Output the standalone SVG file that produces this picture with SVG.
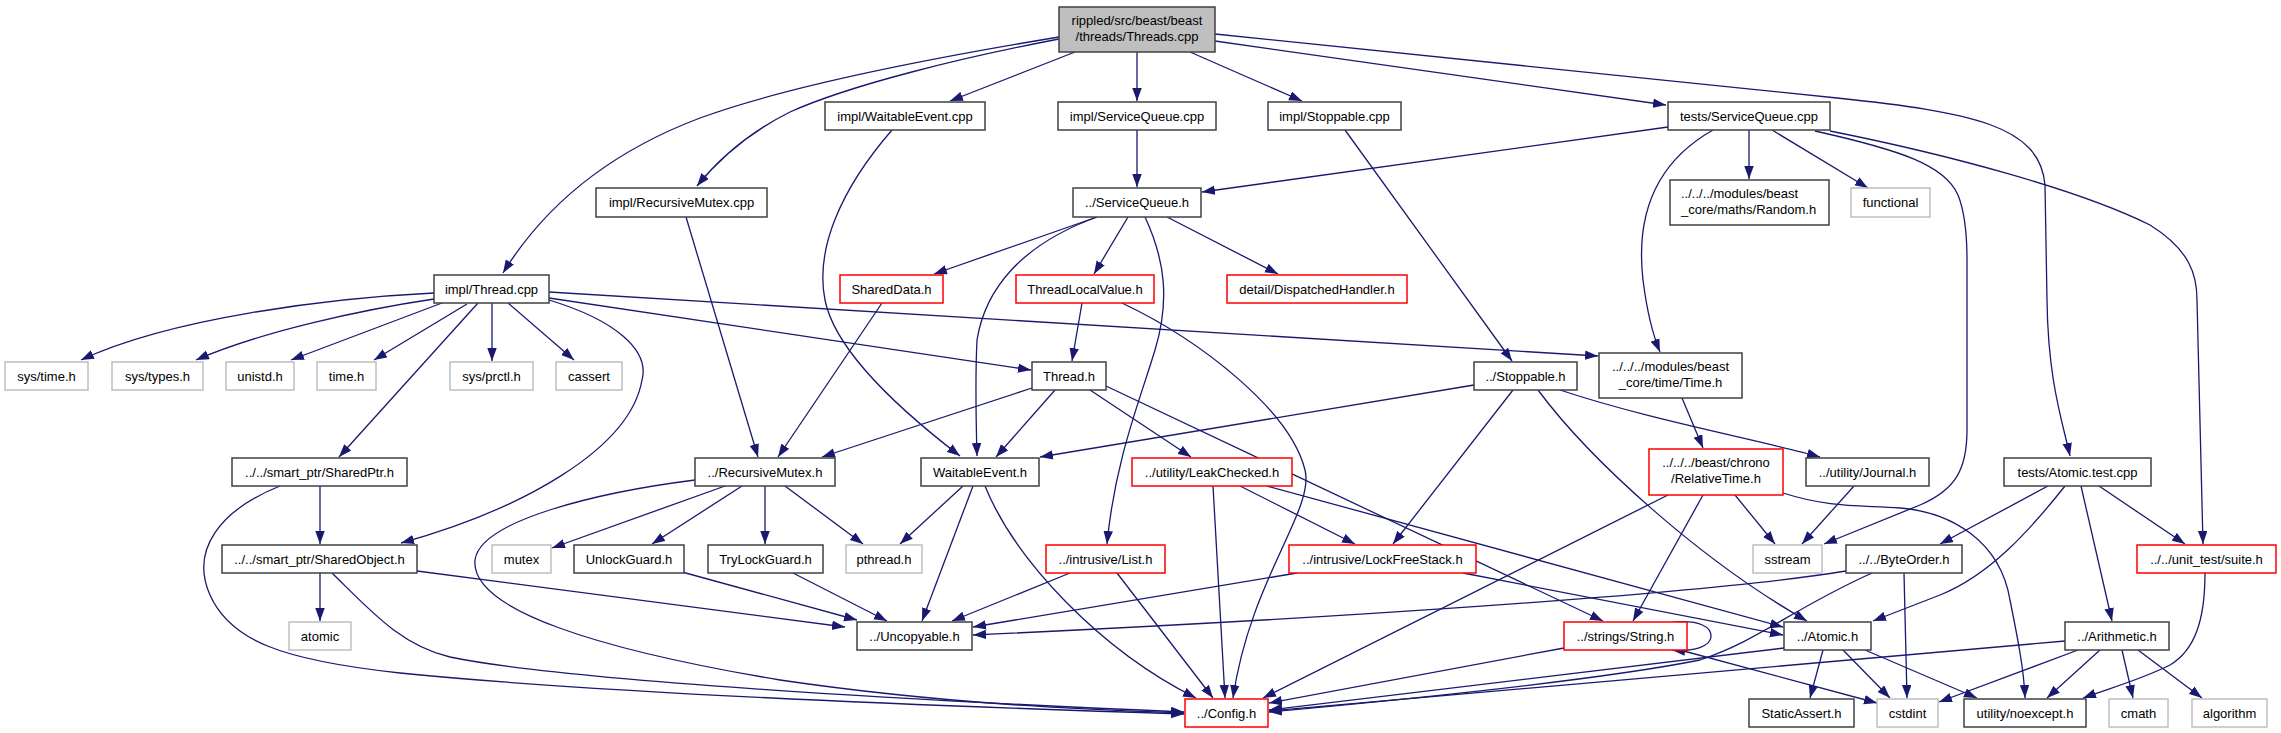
<svg xmlns="http://www.w3.org/2000/svg" width="2281" height="733" viewBox="0 0 2281 733">
<style>
rect{fill:#fff;stroke:#404040;stroke-width:1.5}
.g rect{stroke:#bfbfbf}
.r rect{stroke:#ff0000}
#root rect{fill:#bfbfbf}
text{font-family:"Liberation Sans",Arial,sans-serif;font-size:13px;fill:#000;text-anchor:middle}
#edges path{fill:none;stroke:#191970;stroke-width:1.3;marker-end:url(#ah)}
</style>
<defs>
<marker id="ah" markerUnits="userSpaceOnUse" markerWidth="13" markerHeight="10" refX="13" refY="4.75" orient="auto">
<path d="M0,0 L13,4.75 L0,9.5 z" fill="#191970"/>
</marker>
</defs>
<rect x="0" y="0" width="2281" height="733" style="fill:#fff;stroke:none"/>
<g id="edges">
<path d="M1059,37 C950,55 790,85 700,118 C610,152 545,205 503,273"/>
<path d="M1059,39 C960,58 850,85 790,112 C750,132 718,160 697,186"/>
<path d="M1075,52 L950,101"/>
<path d="M1137,52 L1137,101"/>
<path d="M1190,52 L1302,101"/>
<path d="M1215,41 L1666,105"/>
<path d="M1215,34 L1837,98 C1970,112 2040,125 2045,185 L2047,300 C2048,380 2062,420 2070,456"/>
<path d="M892,130 C840,190 815,250 825,300 C835,350 900,410 960,456"/>
<path d="M1137,130 L1137,187"/>
<path d="M1345,130 L1512,361"/>
<path d="M686,217 L758,457"/>
<path d="M1668,127 L1202,192"/>
<path d="M1713,130 C1660,160 1635,210 1643,280 C1648,320 1655,340 1660,352"/>
<path d="M1749,130 L1749,179"/>
<path d="M1772,130 L1868,188"/>
<path d="M1815,131 C1900,150 1945,165 1958,195 C1966,215 1967,240 1967,260 L1967,430 C1967,470 1955,490 1920,505 L1824,544"/>
<path d="M1830,131 C1950,155 2080,190 2150,225 C2190,250 2197,275 2197,300 L2203,544"/>
<path d="M1097,217 L934,274"/>
<path d="M1097,217 C1020,245 985,290 977,340 C975,380 976,420 977,456"/>
<path d="M1128,217 L1094,274"/>
<path d="M1145,217 C1165,260 1170,300 1155,350 C1140,400 1115,460 1107,544"/>
<path d="M1167,217 L1278,274"/>
<path d="M882,303 L778,457"/>
<path d="M1082,303 L1072,361"/>
<path d="M1122,303 C1200,340 1290,410 1305,470 C1315,510 1250,580 1233,698"/>
<path d="M434,293 C330,298 170,318 81,360"/>
<path d="M434,299 C360,310 260,332 196,360"/>
<path d="M442,303 L291,360"/>
<path d="M467,304 L374,360"/>
<path d="M478,303 L339,457"/>
<path d="M492,303 L492,361"/>
<path d="M508,303 L574,360"/>
<path d="M549,300 C615,320 650,350 642,380 C630,450 520,510 401,543"/>
<path d="M549,298 L1031,370"/>
<path d="M549,292 L1598,356"/>
<path d="M1032,388 L822,457"/>
<path d="M1055,390 L996,457"/>
<path d="M1090,390 L1191,457"/>
<path d="M1106,386 L1603,621"/>
<path d="M1474,385 L1040,457"/>
<path d="M1513,390 L1393,544"/>
<path d="M1560,390 C1650,420 1760,440 1820,457"/>
<path d="M1538,390 C1590,460 1700,560 1807,621"/>
<path d="M1682,398 L1703,448"/>
<path d="M1735,495 L1775,544"/>
<path d="M1703,495 L1633,621"/>
<path d="M1668,495 L1263,698"/>
<path d="M1783,493 C1830,508 1860,505 1900,508 C1950,512 2000,540 2010,600 C2018,640 2024,670 2025,698"/>
<path d="M1854,486 L1802,544"/>
<path d="M725,486 L552,548"/>
<path d="M742,486 L652,544"/>
<path d="M765,486 L765,544"/>
<path d="M785,486 L863,544"/>
<path d="M695,480 C600,492 480,520 475,560 C470,610 600,650 780,680 C950,705 1100,710 1184,713"/>
<path d="M963,486 L900,544"/>
<path d="M973,486 L922,621"/>
<path d="M985,486 C1015,560 1100,650 1196,698"/>
<path d="M1240,486 L1355,544"/>
<path d="M1213,486 L1225,698"/>
<path d="M1267,486 L1783,627"/>
<path d="M320,486 L320,544"/>
<path d="M280,486 C220,510 190,550 210,595 C230,640 280,660 400,673 C600,693 900,705 1184,714"/>
<path d="M320,573 L320,621"/>
<path d="M417,571 L845,627"/>
<path d="M332,573 C370,610 400,645 450,657 C560,680 900,700 1184,712"/>
<path d="M682,572 L857,620"/>
<path d="M793,573 L887,621"/>
<path d="M1070,573 L952,621"/>
<path d="M1117,573 L1213,698"/>
<path d="M1297,573 L973,627"/>
<path d="M1463,573 L1783,635"/>
<path d="M1846,571 C1700,595 1300,620 973,635"/>
<path d="M1872,573 C1790,610 1760,640 1700,660 C1600,680 1400,700 1269,712"/>
<path d="M1904,573 L1907,698"/>
<path d="M2048,486 L1940,544"/>
<path d="M2065,486 C2030,530 1990,575 1940,595 L1873,621"/>
<path d="M2081,486 L2112,621"/>
<path d="M2099,486 L2185,544"/>
<path d="M2205,573 C2205,620 2195,650 2170,665 C2140,680 2110,688 2083,698"/>
<path d="M1823,650 L1810,698"/>
<path d="M1843,650 L1890,698"/>
<path d="M1865,650 L1977,698"/>
<path d="M1784,648 L1269,710"/>
<path d="M1668,623 C1700,618 1712,628 1711,637 C1710,646 1695,652 1672,650"/>
<path d="M1680,650 L1877,703"/>
<path d="M1564,648 L1269,703"/>
<path d="M2078,650 L1939,702"/>
<path d="M2100,650 L2047,698"/>
<path d="M2122,650 L2133,698"/>
<path d="M2138,650 L2202,698"/>
<path d="M2065,641 L1269,711"/>
</g>
<g id="root"><rect x="1059" y="7" width="156" height="45"/><text x="1137" y="24.5">rippled/src/beast/beast</text><text x="1137" y="40.5">/threads/Threads.cpp</text></g>
<g id="waitcpp"><rect x="825" y="102" width="160" height="28"/><text x="905" y="120.5">impl/WaitableEvent.cpp</text></g>
<g id="sqcpp"><rect x="1058" y="102" width="158" height="28"/><text x="1137" y="120.5">impl/ServiceQueue.cpp</text></g>
<g id="stopcpp"><rect x="1268" y="102" width="133" height="28"/><text x="1334.5" y="120.5">impl/Stoppable.cpp</text></g>
<g id="tsqcpp"><rect x="1668" y="102" width="162" height="28"/><text x="1749" y="120.5">tests/ServiceQueue.cpp</text></g>
<g id="rmcpp"><rect x="596" y="188" width="171" height="29"/><text x="681.5" y="207">impl/RecursiveMutex.cpp</text></g>
<g id="sqh"><rect x="1073" y="188" width="128" height="29"/><text x="1137" y="207">../ServiceQueue.h</text></g>
<g id="random"><rect x="1670" y="180" width="159" height="45"/><text x="1681" y="197.5" style="text-anchor:start">../../../modules/beast</text><text x="1681" y="213.5" style="text-anchor:start">_core/maths/Random.h</text></g>
<g id="functional" class="g"><rect x="1851" y="188" width="79" height="29"/><text x="1890.5" y="207">functional</text></g>
<g id="threadcpp"><rect x="434" y="275" width="115" height="28"/><text x="491.5" y="293.5">impl/Thread.cpp</text></g>
<g id="shareddata" class="r"><rect x="840" y="275" width="103" height="28"/><text x="891.5" y="293.5">SharedData.h</text></g>
<g id="tlv" class="r"><rect x="1016" y="275" width="138" height="28"/><text x="1085" y="293.5">ThreadLocalValue.h</text></g>
<g id="dispatched" class="r"><rect x="1227" y="275" width="180" height="28"/><text x="1317" y="293.5">detail/DispatchedHandler.h</text></g>
<g id="systime" class="g"><rect x="5" y="362" width="83" height="28"/><text x="46.5" y="380.5">sys/time.h</text></g>
<g id="systypes" class="g"><rect x="112" y="362" width="91" height="28"/><text x="157.5" y="380.5">sys/types.h</text></g>
<g id="unistd" class="g"><rect x="226" y="362" width="68" height="28"/><text x="260" y="380.5">unistd.h</text></g>
<g id="timeh" class="g"><rect x="317" y="362" width="59" height="28"/><text x="346.5" y="380.5">time.h</text></g>
<g id="prctl" class="g"><rect x="450" y="362" width="83" height="28"/><text x="491.5" y="380.5">sys/prctl.h</text></g>
<g id="cassert" class="g"><rect x="556" y="362" width="66" height="28"/><text x="589" y="380.5">cassert</text></g>
<g id="threadh"><rect x="1032" y="362" width="74" height="28"/><text x="1069" y="380.5">Thread.h</text></g>
<g id="stoppableh"><rect x="1474" y="362" width="103" height="28"/><text x="1525.5" y="380.5">../Stoppable.h</text></g>
<g id="timeH"><rect x="1599" y="353" width="143" height="45"/><text x="1670.5" y="370.5">../../../modules/beast</text><text x="1670.5" y="386.5">_core/time/Time.h</text></g>
<g id="sharedptr"><rect x="232" y="458" width="175" height="28"/><text x="319.5" y="476.5">../../smart_ptr/SharedPtr.h</text></g>
<g id="rmh"><rect x="695" y="458" width="140" height="28"/><text x="765" y="476.5">../RecursiveMutex.h</text></g>
<g id="waith"><rect x="921" y="458" width="118" height="28"/><text x="980" y="476.5">WaitableEvent.h</text></g>
<g id="leak" class="r"><rect x="1132" y="458" width="160" height="28"/><text x="1212" y="476.5">../utility/LeakChecked.h</text></g>
<g id="reltime" class="r"><rect x="1649" y="449" width="134" height="46"/><text x="1716" y="466.5">../../../beast/chrono</text><text x="1716" y="482.5">/RelativeTime.h</text></g>
<g id="journal"><rect x="1806" y="458" width="123" height="28"/><text x="1867.5" y="476.5">../utility/Journal.h</text></g>
<g id="atomictest"><rect x="2004" y="458" width="147" height="28"/><text x="2077.5" y="476.5">tests/Atomic.test.cpp</text></g>
<g id="sharedobj"><rect x="222" y="545" width="195" height="28"/><text x="319.5" y="563.5">../../smart_ptr/SharedObject.h</text></g>
<g id="mutex" class="g"><rect x="492" y="545" width="59" height="28"/><text x="521.5" y="563.5">mutex</text></g>
<g id="unlock"><rect x="574" y="545" width="110" height="28"/><text x="629" y="563.5">UnlockGuard.h</text></g>
<g id="trylock"><rect x="708" y="545" width="115" height="28"/><text x="765.5" y="563.5">TryLockGuard.h</text></g>
<g id="pthread" class="g"><rect x="846" y="545" width="76" height="28"/><text x="884" y="563.5">pthread.h</text></g>
<g id="list" class="r"><rect x="1046" y="545" width="119" height="28"/><text x="1105.5" y="563.5">../intrusive/List.h</text></g>
<g id="lockfree" class="r"><rect x="1289" y="545" width="187" height="28"/><text x="1382.5" y="563.5">../intrusive/LockFreeStack.h</text></g>
<g id="sstream" class="g"><rect x="1753" y="545" width="69" height="28"/><text x="1787.5" y="563.5">sstream</text></g>
<g id="byteorder"><rect x="1846" y="545" width="116" height="28"/><text x="1904" y="563.5">../../ByteOrder.h</text></g>
<g id="suite" class="r"><rect x="2137" y="545" width="139" height="28"/><text x="2206.5" y="563.5">../../unit_test/suite.h</text></g>
<g id="atomic" class="g"><rect x="289" y="622" width="62" height="28"/><text x="320" y="640.5">atomic</text></g>
<g id="uncopyable"><rect x="857" y="622" width="115" height="28"/><text x="914.5" y="640.5">../Uncopyable.h</text></g>
<g id="string" class="r"><rect x="1564" y="622" width="123" height="28"/><text x="1625.5" y="640.5">../strings/String.h</text></g>
<g id="atomich"><rect x="1784" y="622" width="87" height="28"/><text x="1827.5" y="640.5">../Atomic.h</text></g>
<g id="arith"><rect x="2065" y="622" width="104" height="28"/><text x="2117" y="640.5">../Arithmetic.h</text></g>
<g id="config" class="r"><rect x="1185" y="699" width="83" height="28"/><text x="1226.5" y="717.5">../Config.h</text></g>
<g id="staticassert"><rect x="1749" y="699" width="105" height="28"/><text x="1801.5" y="717.5">StaticAssert.h</text></g>
<g id="cstdint" class="g"><rect x="1877" y="699" width="61" height="28"/><text x="1907.5" y="717.5">cstdint</text></g>
<g id="noexcept"><rect x="1964" y="699" width="122" height="28"/><text x="2025" y="717.5">utility/noexcept.h</text></g>
<g id="cmath" class="g"><rect x="2109" y="699" width="59" height="28"/><text x="2138.5" y="717.5">cmath</text></g>
<g id="algorithm" class="g"><rect x="2192" y="699" width="75" height="28"/><text x="2229.5" y="717.5">algorithm</text></g>
</svg>
